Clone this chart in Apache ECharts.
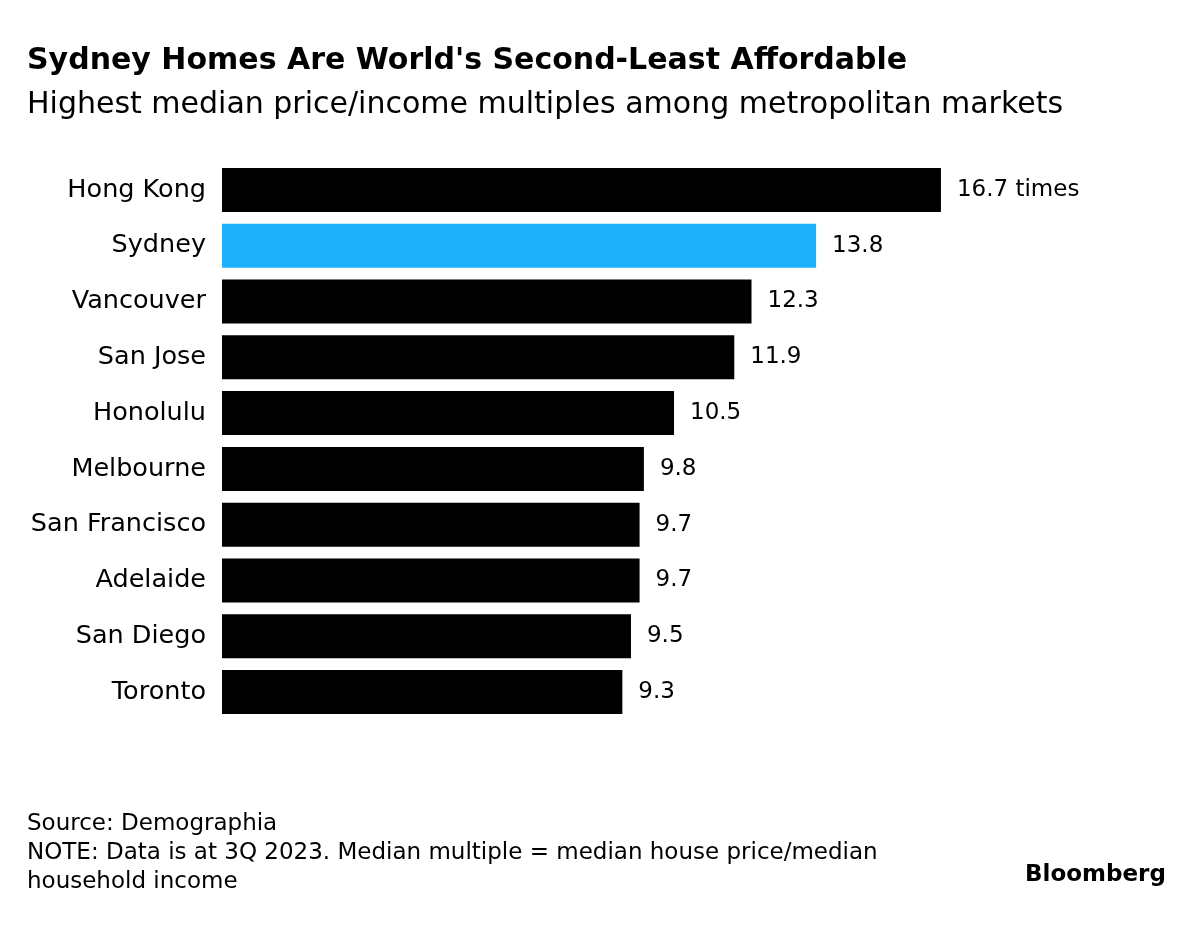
<!DOCTYPE html>
<html><head><meta charset="utf-8">
<script src="https://cdn.jsdelivr.net/npm/echarts@6/dist/echarts.min.js"></script>
<style>html,body{margin:0;padding:0;background:#fff}#c{width:1200px;height:937px}</style>
</head><body><div id="c"></div>
<script>
const categories = ["Hong Kong","Sydney","Vancouver","San Jose","Honolulu","Melbourne","San Francisco","Adelaide","San Diego","Toronto"];
const values = [16.7,13.8,12.3,11.9,10.5,9.8,9.7,9.7,9.5,9.3];
const highlight = "Sydney";
const F = "'DejaVu Sans', sans-serif";
const chart = echarts.init(document.getElementById('c'));
chart.setOption({
  backgroundColor:'#fff',
  animation:false,
  title:[
    {text:"Sydney Homes Are World's Second-Least Affordable",left:22,top:41,textStyle:{fontFamily:F,fontSize:30,fontWeight:'bold',color:'#000'}},
    {text:"Highest median price/income multiples among metropolitan markets",left:22,top:85,textStyle:{fontFamily:F,fontSize:30,fontWeight:'normal',color:'#000'}}
  ],
  graphic:[
    {type:'text',left:27,top:813,style:{text:"Source: Demographia",font:"23px "+F,fill:'#000'}},
    {type:'text',left:27,top:842,style:{text:"NOTE: Data is at 3Q 2023. Median multiple = median house price/median",font:"23px "+F,fill:'#000'}},
    {type:'text',left:27,top:871,style:{text:"household income",font:"23px "+F,fill:'#000'}},
    {type:'text',left:1025,top:864,style:{text:"Bloomberg",font:"bold 23px "+F,fill:'#000'}}
  ],
  grid:{left:222,top:162,width:861,height:558,containLabel:false},
  xAxis:{type:'value',min:0,max:20,show:false},
  yAxis:{type:'category',inverse:true,data:categories,axisLine:{show:false},axisTick:{show:false},
    axisLabel:{fontFamily:F,fontSize:25.5,color:'#000',margin:16}},
  series:[{type:'bar',barWidth:44,
    data:values.map((v,i)=>({value:v,itemStyle:{color:categories[i]===highlight?'#1eb1fc':'#000'}})),
    label:{show:true,position:'right',distance:16,fontFamily:F,fontSize:23,color:'#000',
      formatter:p=>p.dataIndex===0?p.value+' times':String(p.value)}}]
});
</script></body></html>
